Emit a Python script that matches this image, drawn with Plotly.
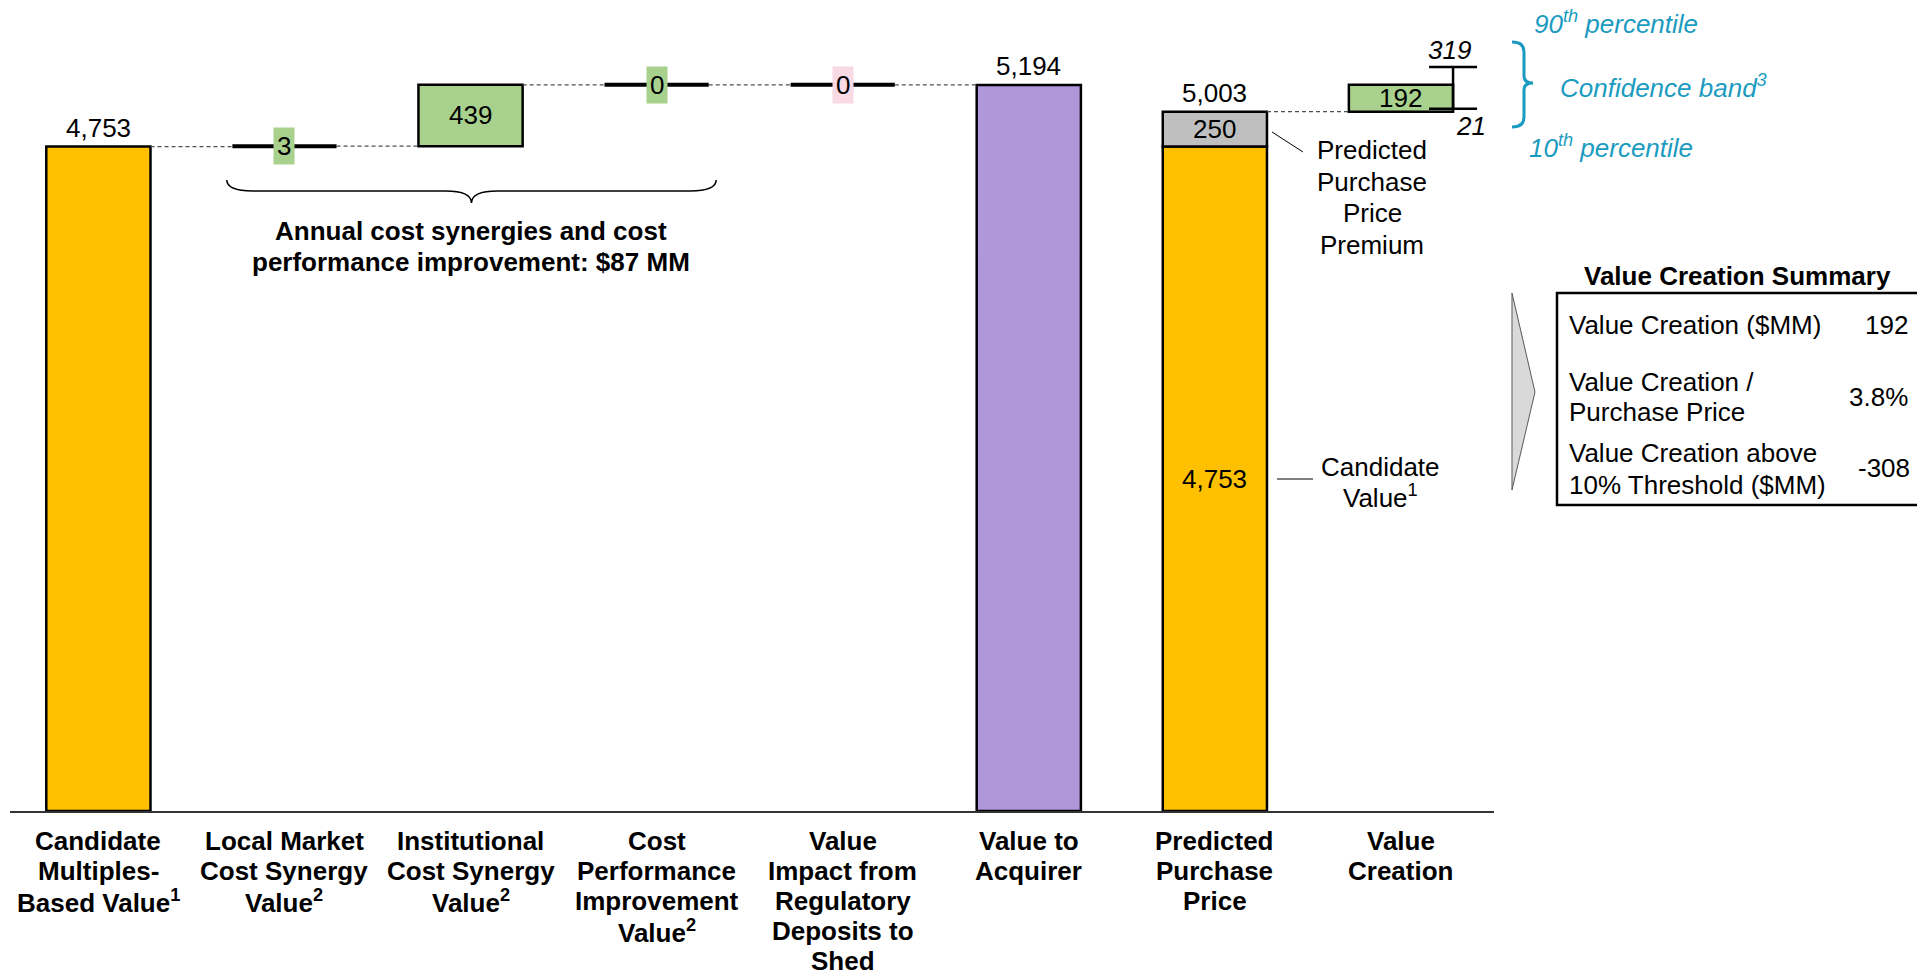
import plotly.graph_objects as go

W, H = 1917, 977
FONT = "Liberation Sans, Arial, sans-serif"

# ---- data -------------------------------------------------------------
category_lines = [
    ["Candidate", "Multiples-", "Based Value<sup>1</sup>"],
    ["Local Market", "Cost Synergy", "Value<sup>2</sup>"],
    ["Institutional", "Cost Synergy", "Value<sup>2</sup>"],
    ["Cost", "Performance", "Improvement", "Value<sup>2</sup>"],
    ["Value", "Impact from", "Regulatory", "Deposits to", "Shed"],
    ["Value to", "Acquirer"],
    ["Predicted", "Purchase", "Price"],
    ["Value", "Creation"],
]

candidate_value = 4753
step_values = [3, 439, 0, 0]          # local market, institutional, cost perf., regulatory
step_label_bg = ["#A9D18E", "#A9D18E", "#A9D18E", "#F9D9E4"]
value_to_acquirer = 5194
purchase_premium = 250
value_creation = 192
vc_p10 = 21
vc_p90 = 319
annual_synergies_mm = 87
threshold_pct = 0.10

# ---- colours ----------------------------------------------------------
ORANGE = "#FFC000"
GREEN = "#A9D18E"
PURPLE = "#B097DA"
GREY = "#BFBFBF"
TEAL = "#1B9BC0"

BAR_W = 0.56
OUTLINE = dict(color="black", width=2.5)

predicted_price = candidate_value + purchase_premium

fig = go.Figure()
ann = []
shapes = []


def px_x(x):
    return x / W


def px_y(y):
    return 1 - y / H


def text_px(x, y, text, size=26, color="black", xanchor="center", yanchor="middle"):
    ann.append(dict(x=px_x(x), y=px_y(y), xref="paper", yref="paper", text=text,
                    showarrow=False, xanchor=xanchor, yanchor=yanchor, borderpad=0,
                    font=dict(family=FONT, size=size, color=color)))


def bar(x, base, value, color):
    fig.add_trace(go.Bar(x=[x], y=[value], base=[base], width=BAR_W,
                         marker=dict(color=color, line=OUTLINE), showlegend=False,
                         hoverinfo="skip"))


def seg(x0, x1, y0, y1, color="black", width=1, dash=None):
    fig.add_trace(go.Scatter(x=[x0, x1], y=[y0, y1], mode="lines",
                             line=dict(color=color, width=width, dash=dash),
                             showlegend=False, hoverinfo="skip"))


def value_label(x, y, text, yanchor="middle", bg=None, yshift=0):
    a = dict(x=x, y=y, xref="x", yref="y", text=text, showarrow=False,
             yanchor=yanchor, xanchor="center", yshift=yshift, borderpad=1,
             font=dict(family=FONT, size=26, color="black"))
    if bg:
        a["bgcolor"] = bg
        a["borderpad"] = 3
    ann.append(a)


# ---- waterfall --------------------------------------------------------
# starting bar
bar(0, 0, candidate_value, ORANGE)
value_label(0, candidate_value, f"{candidate_value:,}", yanchor="bottom", yshift=2)

level = candidate_value
levels = [level]
for i, v in enumerate(step_values, start=1):
    if abs(v) < 20:
        # near-zero steps are shown as a flat marker at the running level
        seg(i - BAR_W / 2, i + BAR_W / 2, level + v, level + v, width=4)
        value_label(i, level + v / 2, f"{v:,}", bg=step_label_bg[i - 1])
    else:
        bar(i, level, v, GREEN)
        value_label(i, level + v / 2, f"{v:,}")
    level += v
    levels.append(level)

# value to acquirer
bar(5, 0, value_to_acquirer, PURPLE)
value_label(5, value_to_acquirer, f"{value_to_acquirer:,}", yanchor="bottom", yshift=2)

# predicted purchase price (candidate value + premium)
bar(6, 0, candidate_value, ORANGE)
bar(6, candidate_value, purchase_premium, GREY)
value_label(6, predicted_price, f"{predicted_price:,}", yanchor="bottom", yshift=2)
value_label(6, candidate_value + purchase_premium / 2, f"{purchase_premium:,}")
value_label(6, candidate_value / 2, f"{candidate_value:,}")

# value creation with 10th / 90th percentile band
bar(7, predicted_price, value_creation, GREEN)
value_label(7, predicted_price + value_creation / 2, f"{value_creation:,}")
fig.add_trace(go.Scatter(
    x=[7 + BAR_W / 2], y=[predicted_price + value_creation], mode="markers",
    marker=dict(size=1, color="rgba(0,0,0,0)"),
    error_y=dict(type="data", symmetric=False, array=[vc_p90 - value_creation],
                 arrayminus=[value_creation - vc_p10], width=24, thickness=2.5,
                 color="black"),
    showlegend=False, hoverinfo="skip"))
ann.append(dict(x=7 + BAR_W / 2, y=predicted_price + vc_p90, xref="x", yref="y",
                text=f"<i>{vc_p90}</i>", showarrow=False, yanchor="bottom",
                xanchor="center", xshift=-4, yshift=1, borderpad=0,
                font=dict(family=FONT, size=26, color="black")))
ann.append(dict(x=7 + BAR_W / 2, y=predicted_price + vc_p10, xref="x", yref="y",
                text=f"<i>{vc_p10}</i>", showarrow=False, yanchor="top",
                xanchor="center", xshift=18, yshift=-1, borderpad=0,
                font=dict(family=FONT, size=26, color="black")))

# dashed connectors between consecutive bars
connectors = [(0, levels[0]), (1, levels[1]), (2, levels[2]), (3, levels[3]),
              (4, levels[4]), (6, predicted_price)]
for i, y in connectors:
    seg(i + BAR_W / 2, i + 1 - BAR_W / 2, y, y, color="#505050", width=1.3,
        dash="4px,3px")

# ---- category labels -------------------------------------------------
for i, lines in enumerate(category_lines):
    for k, line in enumerate(lines):
        ann.append(dict(x=i, y=px_y(841 + k * 30), xref="x", yref="paper",
                        text=f"<b>{line}</b>", showarrow=False, xanchor="center",
                        yanchor="middle", borderpad=0,
                        font=dict(family=FONT, size=26, color="black")))

# ---- synergy brace and caption --------------------------------------
bx0, bx1, bxm = 0.69, 3.32, 2.005
by_end, by_h, by_tip = 4514, 4436, 4350
shapes.append(dict(
    type="path", xref="x", yref="y", line=dict(color="black", width=1.5),
    path=(f"M {bx0},{by_end} Q {bx0},{by_h} {bx0 + 0.14},{by_h} "
          f"L {bxm - 0.14},{by_h} Q {bxm},{by_h} {bxm},{by_tip} "
          f"Q {bxm},{by_h} {bxm + 0.14},{by_h} L {bx1 - 0.14},{by_h} "
          f"Q {bx1},{by_h} {bx1},{by_end}")))
caption = ["Annual cost synergies and cost",
           f"performance improvement: ${annual_synergies_mm} MM"]
for k, line in enumerate(caption):
    ann.append(dict(x=bxm, y=px_y(231 + k * 31), xref="x", yref="paper",
                    text=f"<b>{line}</b>", showarrow=False, xanchor="center",
                    yanchor="middle", borderpad=0,
                    font=dict(family=FONT, size=26, color="black")))

# ---- side notes for the purchase price bar -------------------------
for k, line in enumerate(["Predicted", "Purchase", "Price", "Premium"]):
    text_px(1372, 150 + k * 31.6, line)
shapes.append(dict(type="line", xref="paper", yref="paper",
                   x0=px_x(1272), y0=px_y(132), x1=px_x(1303), y1=px_y(152),
                   line=dict(color="black", width=1)))
for k, line in enumerate(["Candidate", "Value<sup>1</sup>"]):
    text_px(1380, 467 + k * 30, line)
shapes.append(dict(type="line", xref="paper", yref="paper",
                   x0=px_x(1277), y0=px_y(479), x1=px_x(1313), y1=px_y(479),
                   line=dict(color="black", width=1)))

# ---- confidence band legend ------------------------------------------
text_px(1616, 23, "<i>90<sup>th</sup> percentile</i>", color=TEAL)
text_px(1663, 86, "<i>Confidence band<sup>3</sup></i>", color=TEAL)
text_px(1611, 147, "<i>10<sup>th</sup> percentile</i>", color=TEAL)
bpts = [(1512, 42), (1524, 42), (1524, 52), (1524, 76), (1524, 83), (1533, 83),
        (1524, 83), (1524, 90), (1524, 117), (1524, 127), (1512, 127)]
P = [f"{px_x(x):.5f},{px_y(y):.5f}" for x, y in bpts]
shapes.append(dict(
    type="path", xref="paper", yref="paper", line=dict(color=TEAL, width=3),
    path=(f"M {P[0]} Q {P[1]} {P[2]} L {P[3]} Q {P[4]} {P[5]} "
          f"Q {P[6]} {P[7]} L {P[8]} Q {P[9]} {P[10]}")))

# ---- value creation summary box -------------------------------------
vc_pct = value_creation / predicted_price * 100
vc_above = value_creation - round(threshold_pct * predicted_price)
text_px(1737, 276, "<b>Value Creation Summary</b>")
tri = [(1512, 293), (1535, 392), (1512, 490)]
shapes.append(dict(
    type="path", xref="paper", yref="paper", fillcolor="#D9D9D9",
    line=dict(color="#595959", width=1),
    path="M " + " L ".join(f"{px_x(x):.5f},{px_y(y):.5f}" for x, y in tri) + " Z"))
shapes.append(dict(type="rect", xref="paper", yref="paper",
                   x0=px_x(1557), y0=px_y(505), x1=px_x(1935), y1=px_y(293),
                   line=dict(color="black", width=2.5), fillcolor="rgba(0,0,0,0)"))
text_px(1568, 325, "Value Creation ($MM)", xanchor="left")
text_px(1568, 382, "Value Creation /", xanchor="left")
text_px(1568, 412, "Purchase Price", xanchor="left")
text_px(1568, 453, "Value Creation above", xanchor="left")
text_px(1568, 485, f"{threshold_pct:.0%} Threshold ($MM)", xanchor="left")
text_px(1886, 325, f"{value_creation:,}")
text_px(1878, 397, f"{vc_pct:.1f}%")
text_px(1884, 468, f"{vc_above:,}")

# ---- layout -----------------------------------------------------------
fig.update_layout(
    width=W, height=H, margin=dict(l=0, r=0, t=0, b=0),
    paper_bgcolor="white", plot_bgcolor="white", barmode="overlay",
    showlegend=False, annotations=ann, shapes=shapes,
    xaxis=dict(range=[-0.475, 7.5], domain=[10 / W, 1494 / W], showgrid=False,
               zeroline=False, showticklabels=False, ticks="", showline=True,
               linecolor="#333333", linewidth=2, fixedrange=True),
    yaxis=dict(range=[0, 5600], domain=[1 - 811 / H, 1 - 28.2 / H], visible=False,
               fixedrange=True),
)

fig.write_html("out.html")
